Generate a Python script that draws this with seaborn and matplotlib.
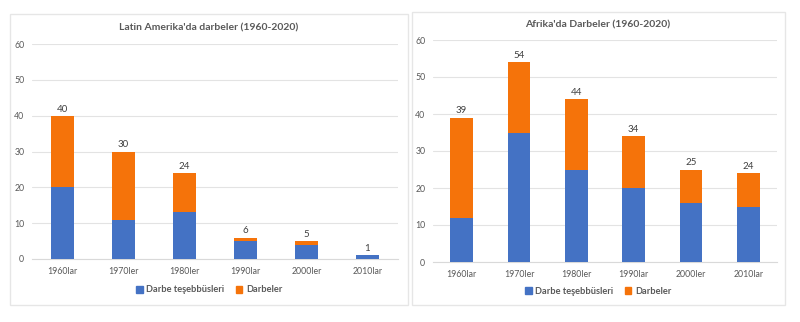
import matplotlib
matplotlib.use("Agg")
import matplotlib.pyplot as plt
import seaborn as sns
import numpy as np
import pandas as pd
from matplotlib.patches import Rectangle, Patch

decades_la = ["1960lar", "1970ler", "1980ler", "1990lar", "2000ler", "2010lar"]
decades_af = ["1960lar", "1970ler", "1980ler", "1990lar", "2000ler", "2010lar"]
la_attempts = [20, 11, 13, 5, 4, 1]
la_coups = [20, 19, 11, 1, 1, 0]
af_attempts = [12, 35, 25, 20, 16, 15]
af_coups = [27, 19, 19, 14, 9, 9]
yticks = [0, 10, 20, 30, 40, 50, 60]
title_la = "Latin Amerika'da darbeler (1960-2020)"
title_af = "Afrika'da Darbeler (1960-2020)"
legend_labels = ["Darbe teşebbüsleri", "Darbeler"]

BLUE = "#4472C4"
ORANGE = "#F5730A"
TXT = "#595959"

sns.set_theme(style="white")
plt.rcParams["font.family"] = ["Lato", "DejaVu Sans"]

W, H = 800, 322
fig = plt.figure(figsize=(W / 100, H / 100), dpi=100)
fig.patch.set_facecolor("white")

def px(x0, y0, x1, y1):
    return [x0 / W, 1 - y1 / H, (x1 - x0) / W, (y1 - y0) / H]

# panel frames
for (x0, y0, x1, y1) in [(10, 14, 408, 305), (412, 12, 785, 305)]:
    fig.patches.append(Rectangle((x0 / W, 1 - y1 / H), (x1 - x0) / W, (y1 - y0) / H,
                                 transform=fig.transFigure, fill=False,
                                 edgecolor="#E6E6E6", linewidth=1.0))

def panel(rect, cats, att, cou, title, title_y, title_x, legend_y):
    ax = fig.add_axes(rect)
    tot = [a + c for a, c in zip(att, cou)]
    df = pd.DataFrame({"cat": cats, "att": att, "tot": tot})
    sns.barplot(data=df, x="cat", y="tot", color=ORANGE, width=0.39,
                saturation=1, ax=ax, zorder=2, edgecolor="none", linewidth=0)
    sns.barplot(data=df, x="cat", y="att", color=BLUE, width=0.39,
                saturation=1, ax=ax, zorder=3, edgecolor="none", linewidth=0)
    ax.set_xlim(-0.5, len(cats) - 0.5)
    ax.set_ylim(0, 60)
    ax.set_yticks(yticks)
    ax.yaxis.grid(True, color="#E3E3E3", linewidth=0.8, zorder=0)
    ax.set_axisbelow(True)
    for s in ["top", "right", "left"]:
        ax.spines[s].set_visible(False)
    ax.spines["bottom"].set_color("#D9D9D9")
    ax.spines["bottom"].set_linewidth(0.8)
    ax.tick_params(axis="both", length=0, labelsize=6.3, labelcolor=TXT, pad=6)
    ax.tick_params(axis="y", pad=5.5)
    ax.set_xlabel("")
    ax.set_ylabel("")
    for i, t in enumerate(tot):
        ax.text(i, t + 0.6, str(t), ha="center", va="bottom", fontsize=7,
                color="#404040")
    fig.text(title_x / W, 1 - title_y / H, title, ha="center", va="center",
             fontsize=7.5, fontweight="bold", color="#595959")
    handles = [Patch(color=BLUE, label=legend_labels[0]),
               Patch(color=ORANGE, label=legend_labels[1])]
    fig.legend(handles=handles, loc="center", bbox_to_anchor=(title_x / W, 1 - legend_y / H),
               ncol=2, frameon=False, handlelength=0.7, handleheight=0.7,
               handletextpad=0.4, columnspacing=1.2,
               prop={"weight": "bold", "size": 6.7}, labelcolor="#595959")
    return ax

panel(px(32, 44, 398, 259), decades_la, la_attempts, la_coups, title_la, 28, 209, 290)
panel(px(433, 40, 777, 262), decades_af, af_attempts, af_coups, title_af, 25, 598, 291)

fig.savefig("out.png", dpi=100, facecolor="white")
